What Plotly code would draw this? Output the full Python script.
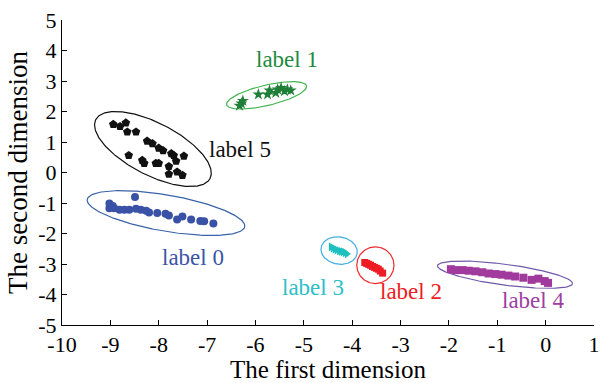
import numpy as np
import plotly.graph_objects as go

# ---- cluster embeddings (2-D) ----
label0_x = [-9.02, -9.02, -8.95, -8.92, -8.81, -8.71, -8.61, -8.49, -8.47, -8.37,
            -8.26, -8.20, -8.03, -7.86, -7.79, -7.62, -7.51, -7.33, -7.14, -7.06, -6.87]
label0_y = [-1.02, -1.17, -1.10, -1.17, -1.22, -1.22, -1.22, -0.80, -1.19, -1.22,
            -1.25, -1.31, -1.33, -1.35, -1.41, -1.54, -1.44, -1.54, -1.59, -1.60, -1.67]

label1_x = [-6.29, -6.33, -6.26, -5.94, -5.75, -5.71, -5.58, -5.54, -5.47, -5.40, -5.34, -5.27]
label1_y = [2.26, 2.19, 2.35, 2.56, 2.56, 2.69, 2.61, 2.72, 2.77, 2.67, 2.72, 2.69]

label2_x = [-3.74, -3.70, -3.66, -3.62, -3.58, -3.54, -3.50, -3.46, -3.42, -3.37]
label2_y = [-2.95, -2.98, -3.01, -3.04, -3.08, -3.11, -3.14, -3.17, -3.23, -3.30]

label3_x = [-4.44, -4.40, -4.36, -4.32, -4.27, -4.23, -4.19, -4.15, -4.11]
label3_y = [-2.44, -2.48, -2.51, -2.54, -2.57, -2.59, -2.60, -2.63, -2.67]

label4_x = [-1.96, -1.86, -1.72, -1.59, -1.45, -1.31, -1.18, -1.04, -0.91, -0.77,
            -0.63, -0.46, -0.29, -0.15, -0.02, 0.05]
label4_y = [-3.17, -3.20, -3.20, -3.22, -3.24, -3.27, -3.31, -3.33, -3.35, -3.38,
            -3.41, -3.45, -3.52, -3.48, -3.56, -3.62]

label5_x = [-8.94, -8.80, -8.68, -8.65, -8.47, -8.24, -8.13, -8.00, -7.91, -7.74, -7.69,
            -7.48, -8.62, -8.34, -8.30, -8.06, -8.00, -7.64, -7.79, -7.79, -7.62, -7.51]
label5_y = [1.58, 1.51, 1.63, 1.33, 1.33, 1.03, 0.95, 0.80, 0.72, 0.62, 0.56,
            0.54, 0.56, 0.40, 0.30, 0.30, 0.30, 0.37, 0.20, -0.05, 0.02, -0.09]

x_ticks = list(range(-10, 2))
y_ticks = list(range(-5, 6))
x_tick_text = [str(v) for v in x_ticks]
y_tick_text = [str(v) for v in y_ticks]

# ---- styling per cluster ----
clusters = [
    # name, xs, ys, marker symbol, size, marker color, text color, ellipse color
    ("label 0", label0_x, label0_y, "circle", 8, "#3a52a6", "#3c55a8", "#3a62a8"),
    ("label 1", label1_x, label1_y, "star", 9, "#1f7f38", "#1f8a40", "#3db34c"),
    ("label 2", label2_x, label2_y, "square", 7, "#ee1c24", "#ee1c24", "#ee2a30"),
    ("label 3", label3_x, label3_y, "triangle-right", 8, "#1fbfbf", "#2cc0c8", "#40aee0"),
    ("label 4", label4_x, label4_y, "square", 8, "#a03a9c", "#a03ea0", "#7058a8"),
    ("label 5", label5_x, label5_y, "pentagon", 9, "#111111", "#111111", "#111111"),
]

# ellipse outlines: centre (x, y), semi-axes a, b in x-units, tilt in degrees
ellipse_params = {
    "label 0": (-7.85, -1.33, 1.654, 0.384, -10.1),
    "label 1": (-5.77, 2.53, 0.85, 0.217, 13.6),
    "label 2": (-3.52, -3.04, 0.385, 0.39, 0.0),
    "label 3": (-4.27, -2.56, 0.378, 0.29, -10.0),
    "label 4": (-0.84, -3.35, 1.409, 0.221, -7.8),
    "label 5": (-8.12, 0.77, 1.337, 0.552, -28.2),
}

# text label positions
label_pos = {
    "label 0": (-7.30, -2.79),
    "label 1": (-5.34, 3.71),
    "label 2": (-2.78, -3.90),
    "label 3": (-4.81, -3.77),
    "label 4": (-0.27, -4.21),
    "label 5": (-6.32, 0.74),
}

W, H = 608, 383
ML, MR, MT, MB = 62, 8, 16, 50
px_x = (W - ML - MR) / (x_ticks[-1] - x_ticks[0])
px_y = (H - MT - MB) / (y_ticks[-1] - y_ticks[0])
ratio = px_x / px_y


def ellipse(cx, cy, a, b, ang, n=240):
    t = np.linspace(0, 2 * np.pi, n)
    th = np.radians(ang)
    dx = a * np.cos(t) * np.cos(th) - b * np.sin(t) * np.sin(th)
    dy = a * np.cos(t) * np.sin(th) + b * np.sin(t) * np.cos(th)
    return cx + dx, cy + dy * ratio


fig = go.Figure()
SERIF = "Liberation Serif"

for name, xs, ys, sym, size, mcol, tcol, ecol in clusters:
    ex, ey = ellipse(*ellipse_params[name])
    fig.add_trace(go.Scatter(x=ex, y=ey, mode="lines",
                             line=dict(color=ecol, width=1.2),
                             showlegend=False, hoverinfo="skip"))
    fig.add_trace(go.Scatter(x=xs, y=ys, mode="markers", name=name,
                             marker=dict(symbol=sym, size=size, color=mcol,
                                         line=dict(width=0)),
                             showlegend=False))
    lx, ly = label_pos[name]
    fig.add_annotation(x=lx, y=ly, text=name, showarrow=False,
                       font=dict(family=SERIF, size=23, color=tcol))

axis_common = dict(showgrid=False, zeroline=False, showline=True,
                   linecolor="black", linewidth=1, ticks="inside", ticklen=5,
                   tickcolor="black", mirror=False,
                   tickfont=dict(family=SERIF, size=22, color="black"))

fig.update_xaxes(range=[x_ticks[0], x_ticks[-1]], tickvals=x_ticks,
                 ticktext=x_tick_text,
                 title=dict(text="The first dimension", standoff=0,
                            font=dict(family=SERIF, size=25, color="black")),
                 **axis_common)
fig.update_yaxes(range=[y_ticks[0], y_ticks[-1]], tickvals=y_ticks,
                 ticktext=y_tick_text,
                 title=dict(text="The second dimension", standoff=2,
                            font=dict(family=SERIF, size=27, color="black")),
                 **axis_common)

fig.update_layout(width=W, height=H, margin=dict(l=ML, r=MR, t=MT, b=MB),
                  plot_bgcolor="white", paper_bgcolor="white")

fig.write_html("out.html")
